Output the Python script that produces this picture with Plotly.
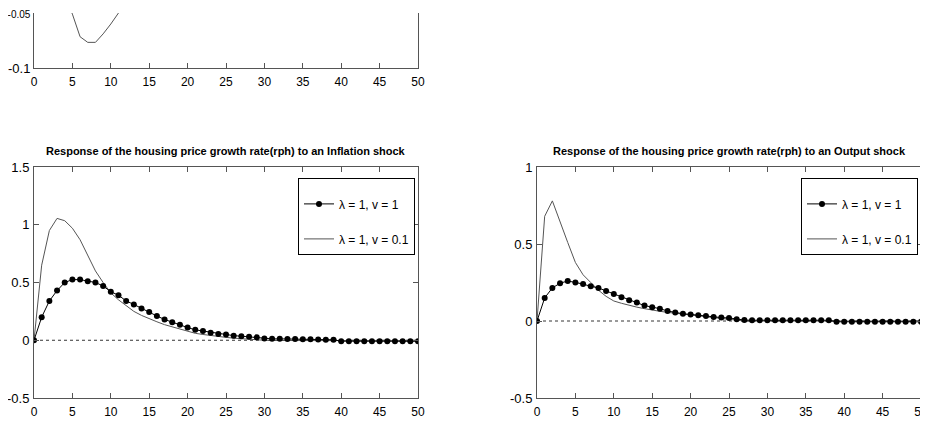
import plotly.graph_objects as go

# ---------------- data ----------------
periods = list(range(0, 51))

# Response to an Inflation shock
infl_lam1_v1 = [0.0, 0.20, 0.34, 0.43, 0.50, 0.525, 0.525, 0.51, 0.50, 0.47,
                0.42, 0.39, 0.34, 0.31, 0.275, 0.245, 0.21, 0.18, 0.155, 0.135,
                0.11, 0.09, 0.08, 0.065, 0.055, 0.05, 0.04, 0.035, 0.03, 0.025,
                0.015, 0.012, 0.012, 0.01, 0.01, 0.008, 0.008, 0.006, 0.005, 0.004,
                -0.008, -0.008, -0.009, -0.009, -0.009, -0.009, -0.009, -0.009, -0.009, -0.009,
                -0.009]
infl_lam1_v01 = [0.0, 0.65, 0.95, 1.055, 1.035, 0.97, 0.87, 0.74, 0.60, 0.50,
                 0.41, 0.35, 0.30, 0.25, 0.215, 0.185, 0.16, 0.135, 0.115, 0.095,
                 0.075, 0.06, 0.05, 0.04, 0.03, 0.025, 0.018, 0.012, 0.008, 0.004,
                 0.0, -0.002, -0.003, -0.003, -0.003, -0.003, -0.003, -0.003, -0.003, -0.003,
                 -0.003, -0.003, -0.003, -0.003, -0.003, -0.003, -0.003, -0.003, -0.003, -0.003,
                 -0.003]

# Response to an Output shock
out_lam1_v1 = [0.0, 0.15, 0.215, 0.245, 0.26, 0.25, 0.24, 0.225, 0.215, 0.195,
               0.175, 0.155, 0.135, 0.12, 0.10, 0.09, 0.08, 0.065, 0.055, 0.047,
               0.043, 0.037, 0.032, 0.026, 0.022, 0.02, 0.011, 0.006, 0.005, 0.005,
               0.005, 0.005, 0.005, 0.005, 0.005, 0.005, 0.005, 0.005, 0.005, -0.005,
               -0.005, -0.005, -0.005, -0.005, -0.005, -0.005, -0.005, -0.005, -0.005, -0.005,
               -0.005]
out_lam1_v01 = [0.0, 0.68, 0.78, 0.64, 0.51, 0.38, 0.30, 0.25, 0.20, 0.16,
                0.13, 0.115, 0.10, 0.09, 0.08, 0.07, 0.063, 0.056, 0.05, 0.045,
                0.038, 0.032, 0.026, 0.02, 0.015, 0.01, 0.005, 0.0, 0.0, 0.0,
                0.0, 0.0, 0.0, 0.0, 0.0, 0.0, 0.0, 0.0, 0.0, 0.0,
                0.0, 0.0, 0.0, 0.0, 0.0, 0.0, 0.0, 0.0, 0.0, 0.0,
                0.0]

# visible part of the upper-left panel (cut off by the image top)
top_left_periods = [4, 5, 6, 7, 8, 9, 10, 11]
top_left_values = [-0.035, -0.051, -0.0716, -0.0767, -0.0767, -0.069, -0.060, -0.050]

zero_x = [0, 50]
zero_y = [0, 0]

x_ticks = list(range(0, 51, 5))
labels = ["λ = 1, v = 1", "λ = 1, v = 0.1"]
titles = ["Response of the housing price growth rate(rph) to an Inflation shock",
          "Response of the housing price growth rate(rph) to an Output shock"]

# ---------------- figure ----------------
OFF = 8                      # page body margin of the html page
W, H = 928 - OFF, 425 - OFF
FONT = "Liberation Sans, Arial, sans-serif"
AX = "#555555"

def px_x(p):
    return (p - OFF) / W

def px_y(p):
    return 1 - (p - OFF) / H

left_dom = [px_x(34), px_x(418)]
right_dom = [px_x(537), px_x(921)]
top_dom = [px_y(68), px_y(13)]
bot_dom = [px_y(398), px_y(167)]

fig = go.Figure()

def add_axes(n, xdom, ydom, yrange, yticks, ylabels, mirror_x=True):
    xa = "xaxis" if n == 1 else f"xaxis{n}"
    ya = "yaxis" if n == 1 else f"yaxis{n}"
    fig.layout[xa] = dict(domain=xdom, anchor=f"y{'' if n == 1 else n}", range=[0, 50],
                          tickvals=x_ticks, ticks="inside", ticklen=5, tickcolor=AX,
                          showline=True, linecolor=AX, linewidth=1,
                          mirror="ticks" if mirror_x else False, automargin=False,
                          showgrid=False, zeroline=False, ticklabelstandoff=3,
                          ticklabeloverflow="allow",
                          tickfont=dict(family=FONT, size=12, color="black"))
    fig.layout[ya] = dict(domain=ydom, anchor=f"x{'' if n == 1 else n}", range=yrange,
                          tickvals=yticks, ticktext=ylabels, ticks="inside", ticklen=5, tickcolor=AX,
                          showline=True, linecolor=AX, linewidth=1, mirror="ticks",
                          automargin=False, ticklabeloverflow="allow",
                          showgrid=False, zeroline=False, ticklabelstandoff=1,
                          tickfont=dict(family=FONT, size=13, color="black"))

# top-left
add_axes(1, left_dom, top_dom, [-0.1, -0.05], [-0.1, -0.05],
         ["-0.1", "<span style='font-size:10px'>-0.05</span>"], mirror_x=False)
# top-right
add_axes(2, right_dom, top_dom, [-0.5, -0.5 + 55 / 77 * 0.5], [-0.5], ["-0.5"], mirror_x=False)
# bottom-left
add_axes(3, left_dom, bot_dom, [-0.5, 1.5], [-0.5, 0, 0.5, 1, 1.5], ["-0.5", "0", "0.5", "1", "1.5"])
# bottom-right
add_axes(4, right_dom, bot_dom, [-0.5, 1.0], [-0.5, 0, 0.5, 1], ["-0.5", "0", "0.5", "1"])
fig.layout.yaxis.ticklabelstandoff = 0

thin = dict(color="#555555", width=1)
dots = dict(color="black", width=1)

fig.add_trace(go.Scatter(x=top_left_periods, y=top_left_values, mode="lines", line=thin,
                         showlegend=False, xaxis="x", yaxis="y"))

for n, v1, v01, leg in [(3, infl_lam1_v1, infl_lam1_v01, "legend"),
                        (4, out_lam1_v1, out_lam1_v01, "legend2")]:
    fig.add_trace(go.Scatter(x=zero_x, y=zero_y, mode="lines",
                             line=dict(color="black", width=0.8, dash="dot"),
                             showlegend=False, xaxis=f"x{n}", yaxis=f"y{n}"))
    fig.add_trace(go.Scatter(x=periods, y=v01, mode="lines", line=thin, name=labels[1],
                             legend=leg, legendgroup=f"b{n}", legendrank=2,
                             xaxis=f"x{n}", yaxis=f"y{n}"))
    fig.add_trace(go.Scatter(x=periods, y=v1, mode="lines+markers", line=dots,
                             marker=dict(color="black", size=6, symbol="circle"),
                             name=labels[0], legend=leg, legendgroup=f"a{n}", legendrank=1,
                             xaxis=f"x{n}", yaxis=f"y{n}"))

legend_style = dict(bgcolor="white", bordercolor="black", borderwidth=1,
                    font=dict(family=FONT, size=12, color="black"),
                    title=dict(text="&nbsp;", font=dict(size=8)),
                    xanchor="left", yanchor="top", traceorder="grouped",
                    tracegroupgap=16, itemwidth=30)
fig.update_layout(
    legend=dict(x=px_x(298), y=px_y(178), **legend_style),
    legend2=dict(x=px_x(801), y=px_y(178), **legend_style),
)

for xc, t in [((34 + 418) / 2, titles[0]), ((537 + 921) / 2, titles[1])]:
    fig.add_annotation(text=f"<b>{t}</b>", x=px_x(xc), y=px_y(151), xref="paper", yref="paper",
                       xanchor="center", yanchor="middle", showarrow=False,
                       font=dict(family=FONT, size=11, color="black"))

fig.update_layout(width=W, height=H, margin=dict(l=0, r=0, t=0, b=0),
                  paper_bgcolor="white", plot_bgcolor="white",
                  font=dict(family=FONT, color="black"))

fig.write_html("out.html")
